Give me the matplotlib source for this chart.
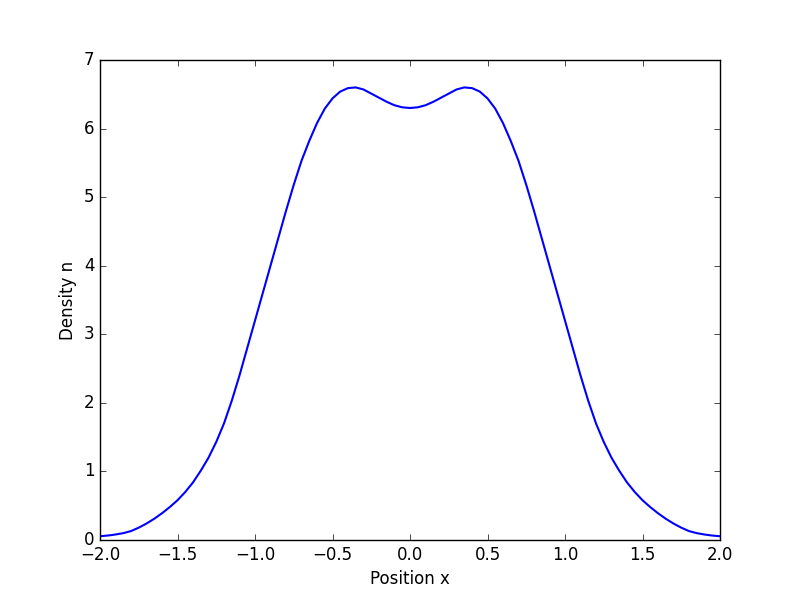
import matplotlib
matplotlib.use("Agg")
import matplotlib.pyplot as plt

plt.style.use("classic")

position = [-2.0, -1.95, -1.9, -1.85, -1.8, -1.75, -1.7, -1.65, -1.6, -1.55,
            -1.5, -1.45, -1.4, -1.35, -1.3, -1.25, -1.2, -1.15, -1.1, -1.05,
            -1.0, -0.95, -0.9, -0.85, -0.8, -0.75, -0.7, -0.65, -0.6, -0.55,
            -0.5, -0.45, -0.4, -0.35, -0.3, -0.25, -0.2, -0.15, -0.1, -0.05,
            0.0, 0.05, 0.1, 0.15, 0.2, 0.25, 0.3, 0.35, 0.4, 0.45,
            0.5, 0.55, 0.6, 0.65, 0.7, 0.75, 0.8, 0.85, 0.9, 0.95,
            1.0, 1.05, 1.1, 1.15, 1.2, 1.25, 1.3, 1.35, 1.4, 1.45,
            1.5, 1.55, 1.6, 1.65, 1.7, 1.75, 1.8, 1.85, 1.9, 1.95, 2.0]

density = [0.055, 0.065, 0.08, 0.10, 0.13, 0.18, 0.24, 0.31, 0.39, 0.48,
           0.58, 0.70, 0.84, 1.01, 1.20, 1.43, 1.70, 2.03, 2.40, 2.80,
           3.20, 3.60, 4.00, 4.40, 4.80, 5.18, 5.53, 5.82, 6.08, 6.29,
           6.44, 6.54, 6.59, 6.60, 6.57, 6.51, 6.45, 6.39, 6.34, 6.31,
           6.30, 6.31, 6.34, 6.39, 6.45, 6.51, 6.57, 6.60, 6.59, 6.54,
           6.44, 6.29, 6.08, 5.82, 5.53, 5.18, 4.80, 4.40, 4.00, 3.60,
           3.20, 2.80, 2.40, 2.03, 1.70, 1.43, 1.20, 1.01, 0.84, 0.70,
           0.58, 0.48, 0.39, 0.31, 0.24, 0.18, 0.13, 0.10, 0.08, 0.065, 0.055]

fig = plt.figure(figsize=(8, 6), dpi=100)
ax = fig.add_subplot(111)
ax.plot(position, density, color="b", linewidth=1.5)
ax.set_xlim(-2, 2)
ax.set_ylim(0, 7)
ax.set_xlabel("Position x")
ax.set_ylabel("Density n")
fig.savefig("out.png", dpi=100)
